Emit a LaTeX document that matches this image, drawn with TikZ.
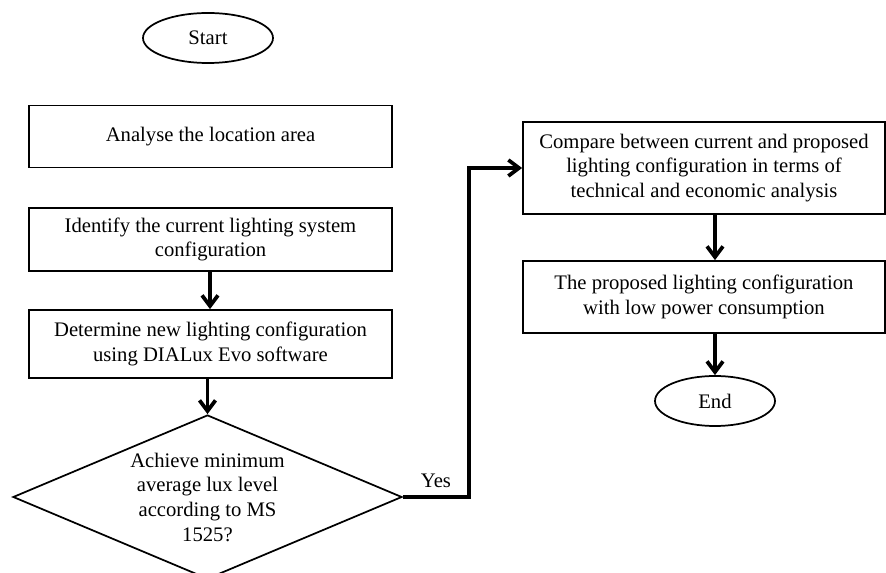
\documentclass[tikz,border=0pt]{standalone}
\usepackage{fontspec}
\setmainfont{Liberation Serif}
\usetikzlibrary{shapes.geometric,arrows.meta}
\begin{document}
\begin{tikzpicture}[x=0.75pt,y=-0.75pt,
  every node/.style={font=\fontsize{15.5pt}{18.5pt}\selectfont},
  stepbox/.style={draw, rectangle, line width=1.3pt, inner sep=0pt,
    align=center, minimum width=272.25pt},
  terminal/.style={draw, ellipse, line width=1.3pt, inner sep=0pt},
  decision/.style={draw, diamond, line width=1.3pt, inner sep=0pt,
    minimum width=291.75pt, minimum height=123pt},
  flow/.style={line width=2.8pt, -{Straight Barb[length=8pt,width=12pt]}}]
\useasboundingbox (0,0) rectangle (886,573);

% left column
\node[terminal, minimum width=97.5pt, minimum height=37.5pt] (start) at (208,38) {Start};
\node[stepbox, minimum height=46.5pt] (analyse) at (210.5,136.5) {Analyse the location area};
\node[stepbox, minimum height=47.25pt] (identify) at (210.5,239.5)
  {Identify the current lighting system\\configuration};
\node[stepbox, minimum height=51pt] (determine) at (210.5,344)
  {Determine new lighting configuration\\using DIALux Evo software};
\node[decision] (dec) at (207.5,497) {};
\node[align=center] (dectext) at (dec.center)
  {Achieve minimum\\average lux level\\according to MS\\1525?};

% right column
\node[stepbox, minimum width=271.5pt, minimum height=69pt] (compare) at (704,168)
  {Compare between current and proposed\\lighting configuration in terms of\\technical and economic analysis};
\node[stepbox, minimum width=271.5pt, minimum height=54pt] (proposed) at (704,297)
  {The proposed lighting configuration\\with low power consumption};
\node[terminal, minimum width=90pt, minimum height=37.5pt] (end) at (715,401) {End};

% connectors
\draw[flow] (identify.south -| 210,0) -- (determine.north -| 210,0);
\draw[flow] (determine.south -| dec) -- (dec.north);
\coordinate (bend) at (469,497);
\draw[flow] (dec.east) -- (bend) |- (compare.west);
\node (yes) at (436,481) {Yes};
\draw[flow] (compare.south -| end) -- (proposed.north -| end);
\draw[flow] (proposed.south -| end) -- (end.north);
\end{tikzpicture}
\end{document}
